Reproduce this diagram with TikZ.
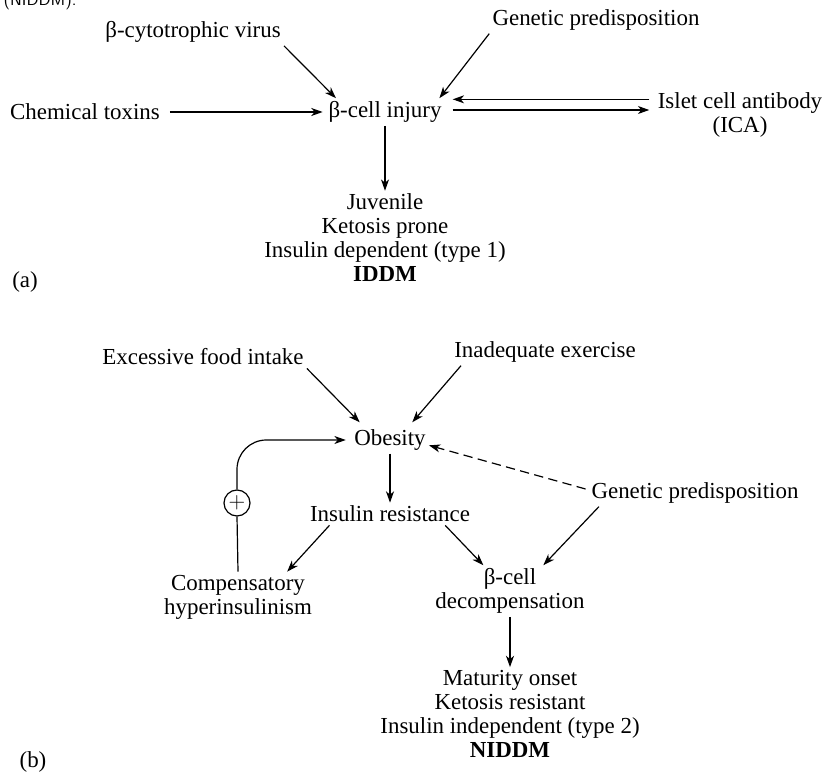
\documentclass[tikz,border=0pt]{standalone}
\usepackage{fontspec}
\setmainfont{Liberation Serif}
\usetikzlibrary{arrows.meta}

\tikzset{every picture/.style={line width=0.9pt}}
\tikzset{
  txt/.style={font=\fontsize{17.2}{18}\selectfont, inner sep=2pt, align=center},
  arr/.style={-{Stealth[length=8.5pt,width=6pt,inset=2.5pt]}},
}

\begin{document}
\begin{tikzpicture}[x=0.75pt,y=0.75pt,yscale=-1,xscale=1]
\path[use as bounding box] (0,0) rectangle (824,773);

% Text Node
\draw (3,6) node [anchor=base west][inner sep=0pt,font=\sffamily\fontsize{12.9}{14}\selectfont] (cap) {(NIDDM).};

%%% part (a)
% Text Node
\draw (193,32) node [txt] (virus) {β-cytotrophic virus};
% Text Node
\draw (596,20) node [txt] (gena) {Genetic predisposition};
% Text Node
\draw (85,112) node [txt] (chem) {Chemical toxins};
% Text Node
\draw (385,112) node [txt] (injury) {β-cell injury};
% Text Node
\draw (740,115) node [txt] (ica) {Islet cell antibody\\(ICA)};
% Text Node
\draw (385,238) node [txt] (iddm) {Juvenile\\Ketosis prone\\Insulin dependent (type 1)\\\textbf{IDDM}};
% Text Node
\draw (25,282) node [txt] (laba) {(a)};

%Straight Lines
\draw [arr] (virus.south east) -- ([xshift=8pt]injury.north west);
%Straight Lines
\draw [arr] (gena.south west) -- ([xshift=-4pt]injury.north east);
%Straight Lines
\draw [arr,shorten <=5pt,shorten >=2pt] (chem) -- (injury);
%Straight Lines
\draw [arr,shorten <=4pt,shorten >=6pt] ([yshift=-9.5pt]injury.east -| ica.west) -- ([yshift=-9.5pt]injury.east);
%Straight Lines
\draw [arr,shorten <=6pt,shorten >=4pt] ([yshift=-1.5pt]injury.east) -- ([yshift=-1.5pt]injury.east -| ica.west);
%Straight Lines
\draw [arr] (injury) -- (iddm);

%%% part (b)
% Text Node
\draw (203,357) node [txt] (food) {Excessive food intake};
% Text Node
\draw (545,352) node [txt] (exer) {Inadequate exercise};
% Text Node
\draw (390,440) node [txt] (obes) {Obesity};
% Text Node
\draw (390,514) node [txt] (insres) {Insulin resistance};
% Text Node
\draw (695,493) node [txt] (genb) {Genetic predisposition};
% Text Node
\draw (238,597) node [txt] (comp) {Compensatory\\hyperinsulinism};
% Text Node
\draw (510,591) node [txt] (beta) {β-cell\\decompensation};
% Text Node
\draw (510,714) node [txt] (niddm) {Maturity onset\\Ketosis resistant\\Insulin independent (type 2)\\\textbf{NIDDM}};
% Text Node
\draw (33,762) node [txt] (labb) {(b)};
%Shape: Circle
\draw (237,503) node [circle,draw,minimum size=19.5pt,inner sep=0pt,font=\fontsize{17}{17}\selectfont] (plus) {$+$};

%Straight Lines
\draw [arr] (food.south east) -- ([xshift=6.5pt,yshift=-3pt]obes.north west);
%Straight Lines
\draw [arr] ([xshift=7.5pt]exer.south west) -- ([xshift=-12.5pt,yshift=-3pt]obes.north east);
%Straight Lines
\draw [arr] (obes) -- (insres);
%Straight Lines
\draw [arr,dashed,dash pattern=on 7pt off 4pt] ([xshift=-2pt,yshift=-3pt]genb.west) -- ([yshift=4pt]obes.east);
%Straight Lines
\draw (comp.north) -- (plus.south);
%Curve Lines
\draw [arr,rounded corners=22pt,shorten >=4pt] (plus.north) |- (obes.west);
%Straight Lines
\draw [arr] ([xshift=17pt]insres.south west) -- ([xshift=-21pt]comp.north east);
%Straight Lines
\draw [arr] ([xshift=-21pt]insres.south east) -- ([xshift=-20pt]beta.north);
%Straight Lines
\draw [arr] ([xshift=8pt]genb.south west) -- ([xshift=25pt]beta.north);
%Straight Lines
\draw [arr] (beta) -- (niddm);

\end{tikzpicture}
\end{document}
